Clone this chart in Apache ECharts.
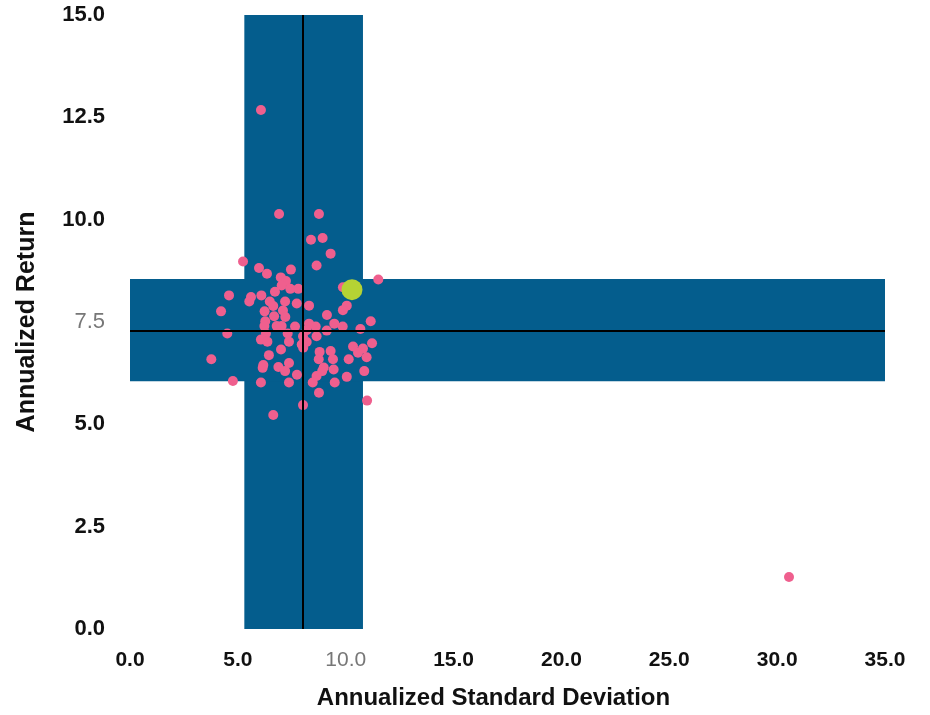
<!DOCTYPE html>
<html>
<head>
<meta charset="utf-8">
<script src="https://cdn.jsdelivr.net/npm/echarts@6/dist/echarts.min.js"></script>
<style>
  html, body { margin: 0; padding: 0; background: #fff; }
  #chart { width: 930px; height: 715px; }
</style>
</head>
<body>
<div id="chart"></div>
<script>
// fund points: annualized std dev (x) and annualized return (y)
const fundStd = [
  6.91, 8.76, 8.39, 8.93, 9.30, 5.24, 8.65, 5.98, 6.35, 7.46,
  6.99, 7.23, 7.03, 7.43, 7.80, 6.72, 4.59, 5.61, 6.09, 5.53,
  6.48, 7.19, 7.73, 8.30, 9.87, 11.51, 10.05, 9.87, 4.22, 6.24,
  6.64, 7.09, 9.13, 6.27, 6.68, 7.20, 11.16, 6.23, 6.80, 7.03,
  7.65, 8.30, 8.61, 9.47, 9.86, 10.68, 4.51, 6.30, 7.31, 8.19,
  9.12, 8.02, 8.65, 6.07, 6.37, 7.37, 7.96, 8.19, 11.22, 10.34,
  10.80, 10.57, 10.97, 7.00, 8.03, 8.79, 9.30, 3.77, 6.44, 8.75,
  9.41, 10.14, 6.18, 7.37, 6.88, 8.98, 9.44, 7.19, 8.91, 10.86,
  7.74, 8.65, 10.05, 4.77, 6.07, 7.37, 8.47, 9.49, 8.76, 10.99,
  8.02, 6.64, 6.15, 6.07, 30.55
];
const fundRet = [
  10.14, 10.14, 9.51, 9.55, 9.17, 8.98, 8.88, 8.82, 8.68, 8.78,
  8.59, 8.50, 8.39, 8.31, 8.31, 8.24, 8.15, 8.11, 8.15, 8.00,
  8.00, 8.00, 7.95, 7.90, 8.35, 8.54, 7.90, 7.79, 7.76, 7.76,
  7.89, 7.78, 7.67, 7.52, 7.64, 7.62, 7.52, 7.40, 7.40, 7.40,
  7.39, 7.46, 7.39, 7.46, 7.39, 7.33, 7.22, 7.22, 7.22, 7.30,
  7.29, 7.15, 7.15, 7.07, 7.02, 7.02, 6.95, 7.01, 6.98, 6.90,
  6.85, 6.75, 6.64, 6.83, 6.87, 6.77, 6.79, 6.59, 6.69, 6.59,
  6.59, 6.59, 6.45, 6.50, 6.40, 6.39, 6.34, 6.30, 6.30, 6.30,
  6.21, 6.18, 6.16, 6.06, 6.02, 6.02, 6.02, 6.02, 5.77, 5.58,
  5.47, 5.23, 6.38, 12.68, 1.27
];
// highlighted portfolio
const portfolio = [10.29, 8.29];
// bands (x range of std dev, y range of return) and average lines
const stdBand = [5.3, 10.8];
const retBand = [6.05, 8.55];
const avgLines = [8.03, 7.28];
const xTicks = [0, 35, 5];
const yTicks = [0, 15, 2.5];

const BLUE = '#045d8d';
const PINK = '#ef5f8e';
const GREEN = '#b5d334';
const FONT = 'Liberation Sans, Arial, sans-serif';

const chart = echarts.init(document.getElementById('chart'));

const fundData = fundStd.map((x, i) => [x, fundRet[i]]);

const labelFmt = (dimVal) => (v) => {
  const s = v.toFixed(1);
  return Math.abs(v - dimVal) < 1e-9 ? '{dim|' + s + '}' : '{b|' + s + '}';
};

chart.setOption({
  animation: false,
  grid: { left: 130, right: 45, top: 15, bottom: 85 },
  xAxis: {
    type: 'value',
    min: xTicks[0], max: xTicks[1], interval: xTicks[2],
    name: 'Annualized Standard Deviation',
    nameLocation: 'middle',
    nameGap: 57,
    nameTextStyle: { fontFamily: FONT, fontWeight: 'bold', fontSize: 24, color: '#111', padding: [0, 28, 0, 0] },
    axisLine: { show: false },
    axisTick: { show: false },
    splitLine: { show: false },
    axisLabel: {
      margin: 21,
      formatter: labelFmt(10),
      rich: {
        b: { fontFamily: FONT, fontWeight: 'bold', fontSize: 21, color: '#111' },
        dim: { fontFamily: FONT, fontWeight: 'normal', fontSize: 21, color: '#777' }
      }
    }
  },
  yAxis: {
    type: 'value',
    min: yTicks[0], max: yTicks[1], interval: yTicks[2],
    name: 'Annualized Return',
    nameLocation: 'middle',
    nameGap: 90,
    nameTextStyle: { fontFamily: FONT, fontWeight: 'bold', fontSize: 25, color: '#111' },
    axisLine: { show: false },
    axisTick: { show: false },
    splitLine: { show: false },
    axisLabel: {
      margin: 25,
      formatter: labelFmt(7.5),
      rich: {
        b: { fontFamily: FONT, fontWeight: 'bold', fontSize: 22, color: '#111' },
        dim: { fontFamily: FONT, fontWeight: 'normal', fontSize: 22, color: '#777' }
      }
    }
  },
  series: [
    {
      // bands
      type: 'scatter',
      z: 1,
      data: [],
      silent: true,
      markArea: {
        silent: true,
        itemStyle: { color: BLUE, opacity: 1 },
        data: [
          [{ xAxis: stdBand[0] }, { xAxis: stdBand[1] }],
          [{ yAxis: retBand[0] }, { yAxis: retBand[1] }]
        ]
      }
    },
    {
      type: 'scatter',
      z: 2,
      symbolSize: 10,
      itemStyle: { color: PINK, opacity: 1 },
      data: fundData
    },
    {
      // average lines
      type: 'scatter',
      z: 3,
      data: [],
      silent: true,
      markLine: {
        silent: true,
        symbol: 'none',
        label: { show: false },
        lineStyle: { color: '#000', width: 2, type: 'solid' },
        data: [{ xAxis: avgLines[0] }, { yAxis: avgLines[1] }]
      }
    },
    {
      type: 'scatter',
      z: 4,
      symbolSize: 21,
      itemStyle: { color: GREEN, opacity: 1 },
      data: [portfolio]
    }
  ]
});
</script>
</body>
</html>
